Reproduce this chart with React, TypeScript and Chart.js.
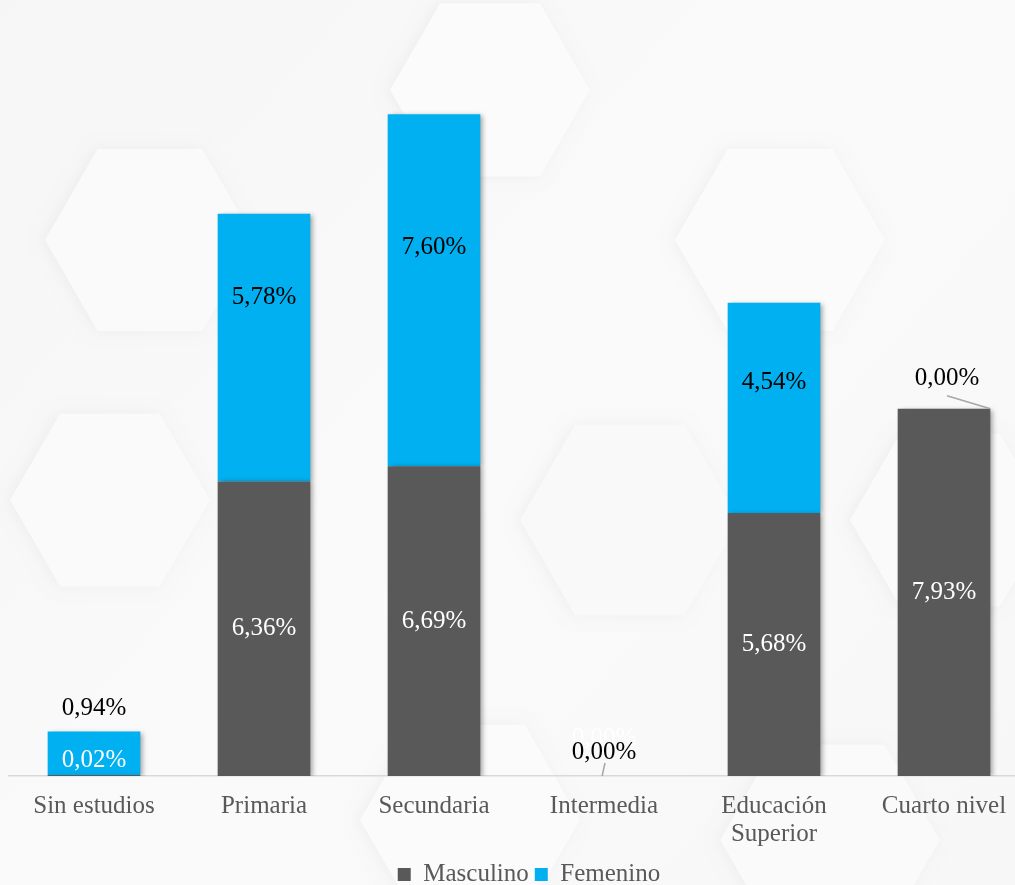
import React, { useEffect, useRef } from "react";
import { Chart, registerables } from "chart.js";

Chart.register(...registerables);

const categories: (string | string[])[] = [
  "Sin estudios",
  "Primaria",
  "Secundaria",
  "Intermedia",
  ["Educación", "Superior"],
  "Cuarto nivel",
];
const masculino = [0.02, 6.36, 6.69, 0, 5.68, 7.93];
const femenino = [0.94, 5.78, 7.6, 0, 4.54, 0];
const seriesNames = ["Masculino", "Femenino"];

const DARK = "#595959";
const BLUE = "#00B0F0";
const FONT = "'Liberation Serif', 'Times New Roman', serif";

// label placement tweaks (pixels), keyed "dataset-index"
const labelOffsets: Record<string, { dx: number; dy: number }> = {
  "0-0": { dx: 0, dy: -15 },
  "1-0": { dx: 0, dy: -45 },
  "1-1": { dx: 0, dy: -50 },
  "1-2": { dx: 0, dy: -43 },
  "0-3": { dx: 0, dy: -38 },
  "1-3": { dx: 0, dy: -24 },
  "1-4": { dx: 0, dy: -25 },
  "1-5": { dx: 3, dy: -30 },
};
const leaders: Record<string, { from: [number, number]; toEdge: number }> = {
  "1-3": { from: [1, 11], toEdge: -0.02 },
  "1-5": { from: [0, 17], toEdge: 0.5 },
};

const fmt = (v: number) => v.toFixed(2).replace(".", ",") + "%";

const bgPlugin = {
  id: "bg",
  beforeDraw(chart: any) {
    const { ctx, width, height } = chart;
    ctx.save();
    const g = ctx.createLinearGradient(0, 0, width, height);
    g.addColorStop(0, "#f6f6f7");
    g.addColorStop(0.5, "#fafafa");
    g.addColorStop(1, "#f7f7f7");
    ctx.fillStyle = g;
    ctx.fillRect(0, 0, width, height);
    const hex = (cx: number, cy: number, r: number, fill: string) => {
      ctx.beginPath();
      for (let i = 0; i < 6; i++) {
        const a = (Math.PI / 3) * i;
        const x = cx + r * Math.cos(a);
        const y = cy + r * Math.sin(a);
        if (i === 0) ctx.moveTo(x, y);
        else ctx.lineTo(x, y);
      }
      ctx.closePath();
      ctx.fillStyle = fill;
      ctx.shadowColor = "rgba(0,0,0,0.04)";
      ctx.shadowBlur = 14;
      ctx.shadowOffsetX = -3;
      ctx.fill();
    };
    hex(490, 90, 100, "#fbfbfb");
    hex(150, 240, 105, "#fafafa");
    hex(780, 240, 105, "#fbfbfb");
    hex(630, 520, 110, "#f9f9f9");
    hex(110, 500, 100, "#fafafa");
    hex(950, 520, 100, "#fafafa");
    hex(470, 820, 110, "#fbfbfb");
    hex(830, 840, 110, "#fafafa");
    ctx.restore();
  },
};

const shadowPlugin = {
  id: "barShadow",
  beforeDatasetsDraw(chart: any) {
    const ctx = chart.ctx;
    ctx.save();
    ctx.shadowColor = "rgba(0,0,0,0.35)";
    ctx.shadowBlur = 5;
    ctx.shadowOffsetX = 3;
    ctx.shadowOffsetY = 1;
  },
  afterDatasetsDraw(chart: any) {
    chart.ctx.restore();
  },
};

const legendShift = {
  id: "legendShift",
  afterLayout(chart: any) {
    if (chart.legend) {
      chart.legend.left += 10;
      chart.legend.right += 10;
    }
  },
};

const labelPlugin = {
  id: "valueLabels",
  afterDatasetsDraw(chart: any) {
    const ctx = chart.ctx;
    ctx.save();
    ctx.font = `25px ${FONT}`;
    ctx.textAlign = "center";
    ctx.textBaseline = "middle";
    chart.data.datasets.forEach((ds: any, di: number) => {
      const meta = chart.getDatasetMeta(di);
      meta.data.forEach((bar: any, i: number) => {
        const v = ds.data[i];
        if (v === null || v === undefined) return;
        const key = `${di}-${i}`;
        const off = labelOffsets[key] || { dx: 0, dy: 0 };
        const cx = bar.x + off.dx;
        const cy = (bar.y + bar.base) / 2 + off.dy;
        const ld = leaders[key];
        if (ld) {
          ctx.beginPath();
          ctx.strokeStyle = "#a6a6a6";
          ctx.lineWidth = 1.5;
          ctx.moveTo(cx + ld.from[0], cy + ld.from[1]);
          ctx.lineTo(bar.x + bar.width * ld.toEdge, bar.y);
          ctx.stroke();
        }
        ctx.fillStyle = di === 0 ? "#ffffff" : "#000000";
        ctx.fillText(fmt(v), cx, cy);
      });
    });
    ctx.restore();
  },
};

export default function App() {
  const ref = useRef<HTMLCanvasElement>(null);
  useEffect(() => {
    if (!ref.current) return;
    const chart = new Chart(ref.current, {
      type: "bar",
      data: {
        labels: categories as any,
        datasets: [
          {
            label: seriesNames[0],
            data: masculino,
            backgroundColor: DARK,
            barPercentage: 0.545,
            categoryPercentage: 1,
          },
          {
            label: seriesNames[1],
            data: femenino,
            backgroundColor: BLUE,
            barPercentage: 0.545,
            categoryPercentage: 1,
          },
        ],
      },
      options: {
        responsive: false,
        animation: false,
        layout: { padding: { left: 9, right: 11, top: 35, bottom: 0 } },
        scales: {
          x: {
            stacked: true,
            grid: { display: false, drawTicks: false },
            border: { display: true, color: "#d9d9d9", width: 1.5 },
            ticks: {
              color: DARK,
              padding: 17,
              font: { family: FONT, size: 25, lineHeight: 1.1 },
              maxRotation: 0,
            },
            afterFit(scale: any) {
              scale.height = 80;
            },
          },
          y: {
            stacked: true,
            display: false,
            min: 0,
            max: 16,
          },
        },
        plugins: {
          legend: {
            position: "bottom",
            labels: {
              color: DARK,
              boxWidth: 13,
              boxHeight: 13,
              padding: 6,
              font: { family: FONT, size: 25 },
            },
          },
          tooltip: { enabled: false },
        },
      },
      plugins: [bgPlugin, shadowPlugin, labelPlugin, legendShift],
    });
    return () => chart.destroy();
  }, []);
  return (
    <div
      style={{
        position: "fixed",
        left: 0,
        top: 0,
        width: 1015,
        height: 885,
        overflow: "hidden",
        background: "#f7f7f7",
      }}
    >
      <canvas ref={ref} width={1040} height={897} style={{ display: "block" }} />
    </div>
  );
}
